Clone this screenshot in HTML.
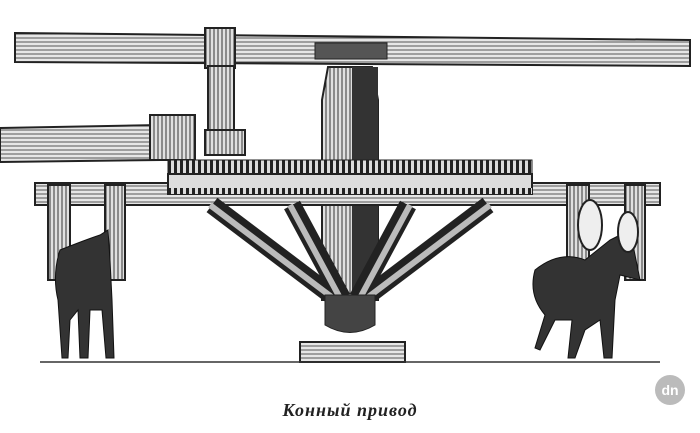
<!DOCTYPE html>
<html><head><style>html,body{margin:0;padding:0;background:#fff}svg{display:block}</style></head><body>
<svg width="700" height="433" viewBox="0 0 700 433" xmlns="http://www.w3.org/2000/svg">
<defs>
<pattern id="h" width="4" height="4" patternUnits="userSpaceOnUse"><rect width="4" height="4" fill="#e6e6e6"/><line x1="0" y1="2" x2="4" y2="2" stroke="#444" stroke-width="0.9"/></pattern>
<pattern id="v" width="4" height="4" patternUnits="userSpaceOnUse"><rect width="4" height="4" fill="#e0e0e0"/><line x1="2" y1="0" x2="2" y2="4" stroke="#333" stroke-width="1"/></pattern>
<pattern id="t" width="6" height="10" patternUnits="userSpaceOnUse"><rect width="6" height="10" fill="#ddd"/><rect x="0" y="0" width="3" height="10" fill="#222"/></pattern>
</defs>
<rect width="700" height="433" fill="#fff"/>
<path d="M15 33 L690 40 L690 66 L15 62 Z" fill="url(#h)" stroke="#222" stroke-width="2"/>
<rect x="205" y="28" width="30" height="40" fill="url(#v)" stroke="#222" stroke-width="2"/>
<rect x="315" y="43" width="72" height="16" fill="#555" stroke="#222"/>
<rect x="208" y="66" width="26" height="80" fill="url(#v)" stroke="#222" stroke-width="2"/>
<path d="M0 128 L160 125 L160 160 L0 162 Z" fill="url(#h)" stroke="#222" stroke-width="2"/>
<rect x="150" y="115" width="45" height="45" fill="url(#v)" stroke="#222" stroke-width="2"/>
<rect x="205" y="130" width="40" height="25" fill="url(#v)" stroke="#222" stroke-width="2"/>
<path d="M328 67 L372 67 L378 100 L378 300 L322 300 L322 100 Z" fill="url(#v)" stroke="#222" stroke-width="2"/>
<rect x="352" y="67" width="26" height="233" fill="#333"/>
<path d="M35 183 L660 183 L660 205 L35 205 Z" fill="url(#h)" stroke="#222" stroke-width="2"/>
<rect x="168" y="160" width="364" height="14" fill="url(#t)" stroke="#222"/>
<rect x="168" y="174" width="364" height="20" fill="#ddd" stroke="#222" stroke-width="2"/>
<rect x="168" y="188" width="364" height="6" fill="url(#t)"/>
<g stroke="#222" stroke-width="18" stroke-linecap="butt">
<line x1="212" y1="205" x2="335" y2="298"/>
<line x1="292" y1="205" x2="342" y2="298"/>
<line x1="408" y1="205" x2="358" y2="298"/>
<line x1="488" y1="205" x2="365" y2="298"/>
</g>
<g stroke="#bbb" stroke-width="6">
<line x1="210" y1="205" x2="333" y2="298"/>
<line x1="290" y1="205" x2="340" y2="298"/>
<line x1="410" y1="205" x2="360" y2="298"/>
<line x1="490" y1="205" x2="367" y2="298"/>
</g>
<path d="M325 295 L375 295 L375 325 Q350 340 325 325 Z" fill="#444" stroke="#222"/>
<rect x="300" y="342" width="105" height="20" fill="url(#h)" stroke="#222" stroke-width="2"/>
<line x1="40" y1="362" x2="660" y2="362" stroke="#333" stroke-width="1.5"/>
<rect x="48" y="185" width="22" height="95" fill="url(#v)" stroke="#222" stroke-width="2"/>
<rect x="105" y="185" width="20" height="95" fill="url(#v)" stroke="#222" stroke-width="2"/>
<rect x="567" y="185" width="22" height="100" fill="url(#v)" stroke="#222" stroke-width="2"/>
<rect x="625" y="185" width="20" height="95" fill="url(#v)" stroke="#222" stroke-width="2"/>
<path d="M60 250 Q85 240 100 235 L108 230 L110 260 L112 300 L114 358 L106 358 L102 310 L90 310 L88 358 L80 358 L78 310 L70 320 L68 358 L62 358 L58 300 Q52 275 60 250 Z" fill="#333" stroke="#111"/>
<path d="M535 270 Q560 250 585 260 L610 240 L630 230 L640 280 L620 275 L615 300 L612 358 L604 358 L600 320 L585 330 L575 358 L568 358 L572 320 L555 320 L540 350 L535 348 L545 315 Q528 295 535 270 Z" fill="#333" stroke="#111"/>
<ellipse cx="590" cy="225" rx="12" ry="25" fill="#eee" stroke="#222" stroke-width="2"/>
<ellipse cx="628" cy="232" rx="10" ry="20" fill="#eee" stroke="#222" stroke-width="2"/>
<text x="350" y="416" text-anchor="middle" font-family="Liberation Serif, serif" font-size="18" font-weight="bold" font-style="italic" fill="#222" letter-spacing="1">Конный привод</text>
<circle cx="670" cy="390" r="15" fill="#bbb"/>
<text x="670" y="395" text-anchor="middle" font-family="Liberation Sans, sans-serif" font-size="14" font-weight="bold" fill="#fff">dn</text>
</svg>
</body></html>
